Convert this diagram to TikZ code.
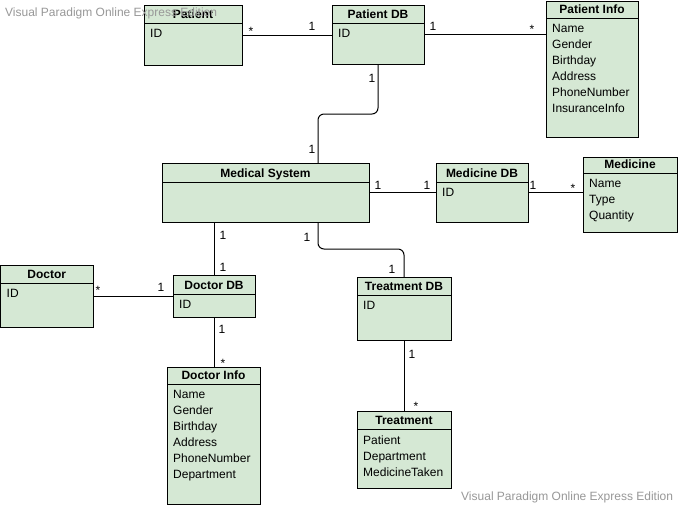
\documentclass[tikz,border=0pt]{standalone}
\usepackage{fontspec}
\setmainfont{Liberation Sans}
\definecolor{clsfill}{HTML}{D5E8D4}
\definecolor{wmgray}{HTML}{989898}
\tikzset{
  cls/.style={draw=black, fill=clsfill, line width=1pt, inner sep=0pt, outer sep=0pt},
  conn/.style={draw=black, line width=1pt},
  lbl/.style={font=\fontsize{12}{14}\selectfont, inner sep=0pt, anchor=base},
  ttl/.style={font=\bfseries\fontsize{12}{14}\selectfont, inner sep=0pt, anchor=base},
  attr/.style={font=\fontsize{12}{16}\selectfont, inner sep=0pt, anchor=north west, align=left},
  wm/.style={font=\fontsize{12}{14}\selectfont, text=wmgray, inner sep=0pt, anchor=base west},
}
% name, x1, y1, width, height, header height, title, attributes
\newcommand\umlclass[8]{%
  \node[cls, anchor=north west, minimum width=#4pt, minimum height=#5pt] (#1) at (#2,#3) {};
  \draw[conn] ([yshift=-#6pt]#1.north west) -- ([yshift=-#6pt]#1.north east);
  \node[ttl] (#1-t) at ([yshift=-#6pt+4.6pt]#1.north) {#7};
  \node[attr] (#1-a) at ([xshift=6pt,yshift=-#6pt-6.4pt]#1.north west) {#8};
}
\begin{document}
\begin{tikzpicture}[x=1pt,y=-1pt]
\useasboundingbox (0,0) rectangle (679,507);
\fill[white] (0,0) rectangle (679,507);

\umlclass{pat}{144}{5}{98}{60}{18}{Patient}{ID}
\umlclass{pdb}{332}{5}{92}{59}{18}{Patient DB}{ID}
\umlclass{pinfo}{546}{1}{92}{136}{17}{Patient Info}{Name\\Gender\\Birthday\\Address\\PhoneNumber\\InsuranceInfo}
\umlclass{ms}{162}{163}{207}{59}{19}{Medical System}{}
\umlclass{mdb}{436}{163}{92}{59}{19}{Medicine DB}{ID}
\umlclass{med}{583}{157}{94}{75}{16}{Medicine}{Name\\Type\\Quantity}
\umlclass{doc}{0.5}{265}{92.5}{62}{18}{Doctor}{ID}
\umlclass{ddb}{173}{275}{82}{42}{19}{Doctor DB}{ID}
\umlclass{tdb}{357}{277}{94}{63}{18}{Treatment DB}{ID}
\umlclass{trt}{357}{411}{94}{77}{18}{Treatment}{Patient\\Department\\MedicineTaken}
\umlclass{dinfo}{167}{367}{93}{137}{17}{Doctor Info}{Name\\Gender\\Birthday\\Address\\PhoneNumber\\Department}

\coordinate (msTop) at (318,163);
\coordinate (msBot) at (318,222);
\coordinate (bendA) at (318,114);
\coordinate (bendB) at (318,249);

% connectors
\draw[conn] (pat.east) -- (pat.east -| pdb.west);
\draw[conn] (pdb.east) -- (pdb.east -| pinfo.west);
\draw[conn, rounded corners=6pt] (pdb.south) |- (bendA) -- (msTop);
\draw[conn] (ms.east) -- (ms.east -| mdb.west);
\draw[conn] (mdb.east) -- (mdb.east -| med.west);
\draw[conn] (ddb.north) -- (ddb.north |- ms.south);
\draw[conn, rounded corners=6pt] (msBot) -- (bendB) -| (tdb.north);
\draw[conn] (doc.east) -- (doc.east -| ddb.west);
\draw[conn] (ddb.south) -- (ddb.south |- dinfo.north);
\draw[conn] (tdb.south) -- (trt.north);

% multiplicities
\node[lbl] (l1) at (251,35.9) {*};
\node[lbl] (l2) at (312,30.3) {1};
\node[lbl] (l3) at (433,30.3) {1};
\node[lbl] (l4) at (532,33) {*};
\node[lbl] (l5) at (372,82.3) {1};
\node[lbl] (l6) at (312,153.3) {1};
\node[lbl] (l7) at (378,189.3) {1};
\node[lbl] (l8) at (427,189.3) {1};
\node[lbl] (l9) at (533,189.3) {1};
\node[lbl] (l10) at (573,192) {*};
\node[lbl] (l11) at (223,239.3) {1};
\node[lbl] (l12) at (307,241.3) {1};
\node[lbl] (l13) at (223,271.3) {1};
\node[lbl] (l14) at (392,273.3) {1};
\node[lbl] (l15) at (98,294) {*};
\node[lbl] (l16) at (161,291.3) {1};
\node[lbl] (l17) at (222,333.3) {1};
\node[lbl] (l18) at (223,367) {*};
\node[lbl] (l19) at (412,358.3) {1};
\node[lbl] (l20) at (416,410) {*};

% watermarks
\node[wm] (wm1) at (5,16) {Visual Paradigm Online Express Edition};
\node[wm] (wm2) at (461,500.3) {Visual Paradigm Online Express Edition};
\end{tikzpicture}
\end{document}
